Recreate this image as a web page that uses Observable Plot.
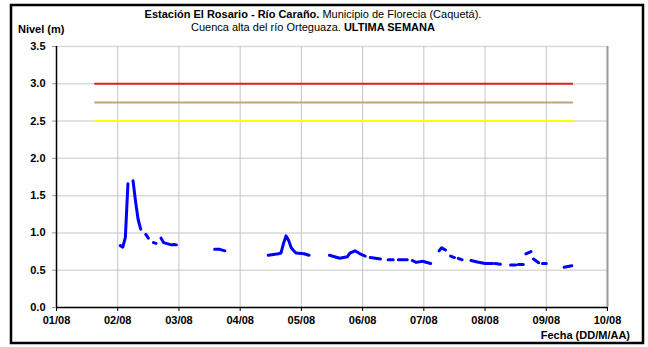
<!DOCTYPE html>
<html><head><meta charset="utf-8">
<script src="https://cdn.jsdelivr.net/npm/d3@7"></script>
<script src="https://cdn.jsdelivr.net/npm/@observablehq/plot@0.6"></script>
<style>html,body{margin:0;padding:0;background:#fff;} #chart{width:648px;height:347px;}</style>
</head><body><div id="chart"></div>
<script>
// Nivel del río (m) — null marks a gap in the record
const fecha = [
  "02/08 01:00","02/08 02:00","02/08 03:00","02/08 04:00","02/08 05:00",
  "02/08 06:00","02/08 07:00","02/08 08:00","02/08 09:00","02/08 10:00",
  "02/08 11:00","02/08 12:00","02/08 13:00",
  "02/08 14:00","02/08 15:00","02/08 16:00",
  "02/08 17:00","02/08 18:00","02/08 19:00","02/08 20:00","02/08 21:00","02/08 22:00","02/08 23:00","03/08 00:00",
  "03/08 14:00","03/08 16:00","03/08 18:00","03/08 19:00",
  "04/08 11:00","04/08 13:00","04/08 15:00","04/08 16:00","04/08 17:00","04/08 18:00","04/08 19:00","04/08 20:00","04/08 21:00","04/08 22:00","05/08 01:00","05/08 03:00","05/08 04:00",
  "05/08 11:00","05/08 13:00","05/08 15:00","05/08 18:00","05/08 19:00","05/08 21:00","05/08 23:00","06/08 01:00","06/08 02:00",
  "06/08 03:00","06/08 07:00","06/08 08:00",
  "06/08 10:00","06/08 12:00","06/08 13:00",
  "06/08 14:00","06/08 17:30","06/08 18:30",
  "06/08 19:30","06/08 21:00","06/08 23:30","07/08 02:40","07/08 04:00",
  "07/08 06:00","07/08 07:00","07/08 08:30","07/08 09:30",
  "07/08 10:30","07/08 12:00","07/08 12:45",
  "07/08 13:30","07/08 15:00","07/08 16:00",
  "07/08 18:30","07/08 21:00","08/08 00:00","08/08 03:00","08/08 03:30",
  "08/08 04:00","08/08 06:00","08/08 07:00",
  "08/08 10:00","08/08 12:00","08/08 12:30",
  "08/08 13:00","08/08 15:00","08/08 15:30",
  "08/08 16:00","08/08 18:00","08/08 18:30",
  "08/08 19:00","08/08 21:00","08/08 21:45",
  "08/08 22:30","09/08 00:00","09/08 01:00",
  "09/08 07:00","09/08 10:00"
];
const nivel = [
  0.83,0.81,0.94,1.66,null,
  1.70,1.42,1.18,1.05,null,
  0.98,0.93,null,
  0.87,0.86,null,
  0.93,0.87,0.86,0.85,0.84,0.845,0.84,null,
  0.78,0.78,0.76,null,
  0.70,0.71,0.72,0.73,0.86,0.96,0.90,0.80,0.76,0.73,0.72,0.70,null,
  0.70,0.68,0.66,0.68,0.73,0.76,0.72,0.69,null,
  0.67,0.65,null,
  0.64,0.64,null,
  0.64,0.64,null,
  0.63,0.605,0.62,0.59,null,
  0.76,0.80,0.77,null,
  0.69,0.67,null,
  0.66,0.64,null,
  0.63,0.61,0.59,0.59,null,
  0.59,0.58,null,
  0.57,0.57,null,
  0.575,0.575,null,
  0.72,0.75,null,
  0.65,0.60,null,
  0.59,0.59,null,
  0.54,0.56
];
// Umbrales de alerta
const umbralNivel = [3.0, 2.75, 2.5];
const umbralColor = ["#e0201c", "#c9a07c", "#ffff00"];
const umbralInicio = "01/08 15:00";
const umbralFin = "09/08 10:40";
// Ejes
const diasEje = ["01/08","02/08","03/08","04/08","05/08","06/08","07/08","08/08","09/08","10/08"];
const nivelEje = [0, 0.5, 1.0, 1.5, 2.0, 2.5, 3.0, 3.5];

const parse = d3.utcParse("%d/%m %H:%M");
const parseDia = d3.utcParse("%d/%m");
const data = fecha.map((f, i) => ({t: parse(f), v: nivel[i]}));
const xTicks = diasEje.map(parseDia);
const umbrales = umbralNivel.map((v, i) => ({v, c: umbralColor[i], t1: parse(umbralInicio), t2: parse(umbralFin)}));
const fmtX = d3.utcFormat("%d/%m");

const plot = Plot.plot({
  width: 648, height: 347,
  marginLeft: 56, marginRight: 41, marginTop: 46, marginBottom: 40,
  style: {fontFamily: "'Liberation Sans', Arial, sans-serif", fontSize: "11px", fontWeight: "bold", color: "#000", background: "#fff"},
  x: {type: "utc", domain: [xTicks[0], xTicks[xTicks.length - 1]], label: null},
  y: {domain: [0, 3.5], label: null},
  marks: [
    Plot.gridY(nivelEje, {stroke: "#d9d9d9", strokeOpacity: 1, strokeWidth: 1.5}),
    Plot.gridX(xTicks, {stroke: "#c4c4c4", strokeOpacity: 1, strokeWidth: 1}),
    Plot.ruleY(umbrales, {y: "v", x1: "t1", x2: "t2", stroke: "c", strokeWidth: 2}),
    Plot.line(data, {x: "t", y: "v", stroke: "#0000ff", strokeWidth: 3, strokeLinecap: "round", strokeLinejoin: "round"}),
    Plot.ruleX([xTicks[xTicks.length - 1]], {stroke: "#9a9a9a", strokeWidth: 2}),
    Plot.axisX(xTicks, {tickFormat: fmtX, tickSize: 4, tickPadding: 5, stroke: "#000", label: null}),
    Plot.axisY(nivelEje, {tickFormat: d3.format(".1f"), tickSize: 4, tickPadding: 7, stroke: "#999", label: null}),
    Plot.ruleY([0], {stroke: "#000", strokeWidth: 1.5}),
    Plot.ruleX([xTicks[0]], {stroke: "#000", strokeWidth: 1.5})
  ]
});
document.getElementById("chart").appendChild(plot);

const svg = d3.select(plot);
const font = "'Liberation Sans', Arial, sans-serif";
svg.append("rect").attr("x", 11).attr("y", 5).attr("width", 632).attr("height", 338)
  .style("fill", "none").style("stroke", "#000").style("stroke-width", "2.5px");
const t1 = svg.append("text").attr("x", 313).attr("y", 18).attr("text-anchor", "middle")
  .attr("font-family", font).attr("font-size", 11).attr("fill", "#000");
t1.append("tspan").attr("font-weight", "bold").text("Estación El Rosario - Río Caraño.");
t1.append("tspan").attr("font-weight", "normal").text(" Municipio de Florecia (Caquetá).");
const t2 = svg.append("text").attr("x", 313).attr("y", 31).attr("text-anchor", "middle")
  .attr("font-family", font).attr("font-size", 11).attr("fill", "#000");
t2.append("tspan").attr("font-weight", "normal").text("Cuenca alta del río Orteguaza. ");
t2.append("tspan").attr("font-weight", "bold").text("ULTIMA SEMANA");
svg.append("text").attr("x", 18).attr("y", 33).attr("text-anchor", "start").attr("font-family", font).attr("font-size", 11)
  .attr("font-weight", "bold").attr("fill", "#000").text("Nivel (m)");
svg.append("text").attr("x", 630).attr("y", 339).attr("text-anchor", "end").attr("font-family", font)
  .attr("font-size", 11).attr("font-weight", "bold").attr("fill", "#000").text("Fecha (DD/M/AA)");
</script>
</body></html>
